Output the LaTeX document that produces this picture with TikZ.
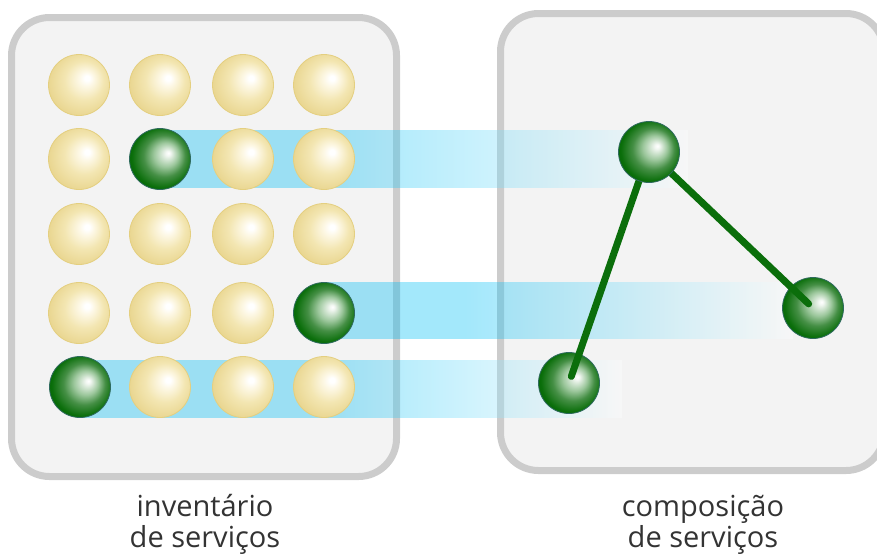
\documentclass[tikz,border=0pt]{standalone}
\usepackage{fontspec}
\setmainfont{Open Sans}
\definecolor{boxfill}{HTML}{F3F3F3}
\definecolor{boxrim}{HTML}{CCCCCC}
\definecolor{bandc}{RGB}{0,190,245}
\definecolor{yelhi}{HTML}{FDF8E6}
\definecolor{yelmid}{HTML}{F3E6B2}
\definecolor{yeledge}{HTML}{E8D48C}
\definecolor{yelrim}{HTML}{E4CF80}
\definecolor{grnhi}{HTML}{F2F7F2}
\definecolor{grnpale}{HTML}{9CC79C}
\definecolor{grnlight}{HTML}{458F45}
\definecolor{grnmid}{HTML}{0A6E0A}
\definecolor{grndark}{HTML}{006000}
\definecolor{grnrim}{HTML}{2E6A5E}
\definecolor{linkc}{HTML}{0B6E0B}
\definecolor{labelc}{HTML}{333333}

% spheres lit from the upper right
\pgfdeclareradialshading{yellowsphere}{\pgfpoint{7bp}{6bp}}{%
  color(0bp)=(white); color(2bp)=(white); color(6bp)=(yelhi); color(16bp)=(yelmid);
  color(29bp)=(yeledge); color(40bp)=(yeledge)}
\pgfdeclareradialshading{greensphere}{\pgfpoint{7bp}{5bp}}{%
  color(0bp)=(white); color(2bp)=(grnhi); color(10bp)=(grnpale); color(17bp)=(grnlight);
  color(25bp)=(grnmid); color(34bp)=(grndark)}

% highlight bands: solid at first, then fading to white
\pgfdeclarehorizontalshading{bandA}{100bp}{%
  color(0bp)=(bandc); color(41bp)=(bandc); color(75bp)=(white); color(100bp)=(white)}
\pgfdeclarehorizontalshading{bandB}{100bp}{%
  color(0bp)=(bandc); color(40bp)=(bandc); color(75bp)=(white); color(100bp)=(white)}
\pgfdeclarehorizontalshading{bandC}{100bp}{%
  color(0bp)=(bandc); color(48bp)=(bandc); color(75bp)=(white); color(100bp)=(white)}

\tikzset{
  panel/.style={fill=boxfill, draw=boxrim, line width=7pt, rounded corners=38pt},
  band/.style={shade, shading=#1, fill opacity=0.36, draw=none},
  yball/.style={circle, minimum size=61pt, inner sep=0pt, shade, shading=yellowsphere,
    draw=yelrim, line width=0.8pt},
  gball/.style={circle, minimum size=61pt, inner sep=0pt, shade, shading=greensphere,
    draw=grnrim, line width=0.8pt},
  link/.style={draw=linkc, line width=7pt, line cap=round},
  caption/.style={anchor=base, text=labelc, font=\fontsize{29}{32}\selectfont, inner sep=0pt}
}

\begin{document}
\begin{tikzpicture}[x=1pt, y=-1pt]
\useasboundingbox (0,0) rectangle (877,555);
\clip (0,0) rectangle (877,555);

% the two panels
\draw[panel] (11.5,17.5) rectangle (396.5,476.5);
\draw[panel] (500.5,13.5) rectangle (884,470.5);

% bands leading from the inventory to the composition
\path[band=bandA] (160,130) rectangle (688,187);
\path[band=bandB] (324,282) rectangle (793,338);
\path[band=bandC] (80,360) rectangle (622,417);

% service inventory
\node[yball] (s11) at (79,85) {};
\node[yball] (s12) at (160,85) {};
\node[yball] (s13) at (243,85) {};
\node[yball] (s14) at (324,85) {};
\node[yball] (s21) at (79,159) {};
\node[gball] (s22) at (160,159) {};
\node[yball] (s23) at (243,159) {};
\node[yball] (s24) at (324,159) {};
\node[yball] (s31) at (79,234) {};
\node[yball] (s32) at (160,234) {};
\node[yball] (s33) at (243,234) {};
\node[yball] (s34) at (324,234) {};
\node[yball] (s41) at (79,313) {};
\node[yball] (s42) at (160,313) {};
\node[yball] (s43) at (243,313) {};
\node[gball] (s44) at (324,313) {};
\node[gball] (s51) at (80,387) {};
\node[yball] (s52) at (160,387) {};
\node[yball] (s53) at (243,387) {};
\node[yball] (s54) at (324,387) {};

% service composition
\coordinate (ctop) at (649,152);
\node[gball] (cright) at (813,308) {};
\node[gball] (cleft) at (569,383) {};
\draw[link, shorten >=7pt] (ctop) -- (cleft.center);
\draw[link, shorten >=6pt] (ctop) -- (cright.center);
\node[gball] (c1) at (ctop) {};

% captions
\node[caption] (inv1) at (205,516) {inventário};
\node[caption] (inv2) at (205,547) {de serviços};
\node[caption] (comp1) at (703,516) {composição};
\node[caption] (comp2) at (703,547) {de serviços};
\end{tikzpicture}
\end{document}
